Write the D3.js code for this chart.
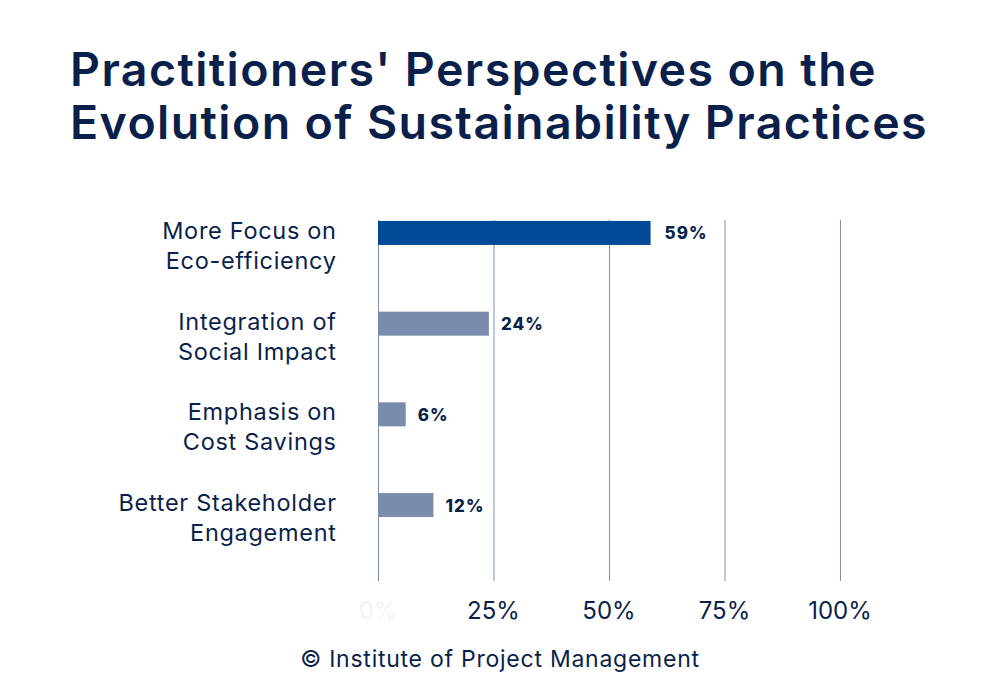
<!DOCTYPE html>
<html>
<head>
<meta charset="utf-8">
<script src="https://cdn.jsdelivr.net/npm/d3@7"></script>
<style>
  body { margin: 0; background: #fff; }
  svg { display: block; }
</style>
</head>
<body>
<script>
// data
var categories = [
  ["More Focus on", "Eco-efficiency"],
  ["Integration of", "Social Impact"],
  ["Emphasis on", "Cost Savings"],
  ["Better Stakeholder", "Engagement"]
];
var values = [59, 24, 6, 12];
var tickValues = [0, 25, 50, 75, 100];
var tickLabels = ["0%", "25%", "50%", "75%", "100%"];
var titleLines = ["Practitioners' Perspectives on the", "Evolution of Sustainability Practices"];
var footer = "\u00a9 Institute of Project Management";

var width = 1000, height = 700;
var navy = "#0b1f4b";
var font = "Inter, 'Noto Sans', sans-serif";

var svg = d3.select("body").append("svg")
  .attr("width", width).attr("height", height);

// title
svg.append("g").selectAll("text").data(titleLines).enter()
  .append("text")
  .attr("x", 70)
  .attr("y", function(d, i) { return 86 + i * 53; })
  .attr("font-family", font)
  .attr("font-weight", 600)
  .attr("font-size", 46.5)
  .attr("letter-spacing", 1.4)
  .attr("fill", navy)
  .text(function(d) { return d; });

var xScale = d3.scaleLinear().domain([0, 100]).range([378, 840]);
var yScale = d3.scaleBand()
  .domain(d3.range(categories.length))
  .range([187.6, 187.6 + 90.7 * categories.length]);
var barH = 24;
var barY = function(i) { return yScale(i) + (yScale.bandwidth() - barH) / 2; };

// gridlines
svg.append("g").selectAll("line").data(tickValues).enter()
  .append("line")
  .attr("x1", function(d) { return xScale(d) + 0.5; })
  .attr("x2", function(d) { return xScale(d) + 0.5; })
  .attr("y1", 220).attr("y2", 581)
  .attr("stroke", "#7f8fae").attr("stroke-width", 1);

// tick labels
svg.append("g").selectAll("text").data(tickValues).enter()
  .append("text")
  .attr("x", function(d) { return xScale(d); })
  .attr("y", 619)
  .attr("text-anchor", "middle")
  .attr("font-family", font)
  .attr("font-size", 24)
  .attr("fill", function(d, i) { return i === 0 ? "#eef6fc" : navy; })
  .text(function(d, i) { return tickLabels[i]; });

// bars
svg.append("g").selectAll("rect").data(values).enter()
  .append("rect")
  .attr("x", xScale(0))
  .attr("y", function(d, i) { return barY(i); })
  .attr("width", function(d) { return xScale(d) - xScale(0); })
  .attr("height", barH)
  .attr("fill", function(d, i) { return i === 0 ? "#004a98" : "#7a8bab"; });

// value labels
svg.append("g").selectAll("text").data(values).enter()
  .append("text")
  .attr("x", function(d, i) { return xScale(d) + (i === 0 ? 14 : 12); })
  .attr("y", function(d, i) { return barY(i) + 18.5; })
  .attr("font-family", font)
  .attr("font-weight", 800)
  .attr("font-size", 17)
  .attr("letter-spacing", 1.1)
  .attr("fill", navy)
  .text(function(d) { return d + "%"; });

// category labels, two lines each
var cat = svg.append("g").selectAll("text").data(categories).enter()
  .append("text")
  .attr("text-anchor", "end")
  .attr("font-family", font)
  .attr("font-size", 23.5)
  .attr("letter-spacing", 0.7)
  .attr("fill", navy);
cat.selectAll("tspan").data(function(d, i) { return d.map(function(t) { return {t: t, i: i}; }); })
  .enter().append("tspan")
  .attr("x", 336.7)
  .attr("y", function(d, j) { return barY(d.i) + 18 + j * 30; })
  .text(function(d) { return d.t; });

// footer
svg.append("text")
  .attr("x", 500).attr("y", 666.5)
  .attr("text-anchor", "middle")
  .attr("font-family", font)
  .attr("font-size", 23)
  .attr("letter-spacing", 0.75)
  .attr("fill", navy)
  .text(footer);
</script>
</body>
</html>
